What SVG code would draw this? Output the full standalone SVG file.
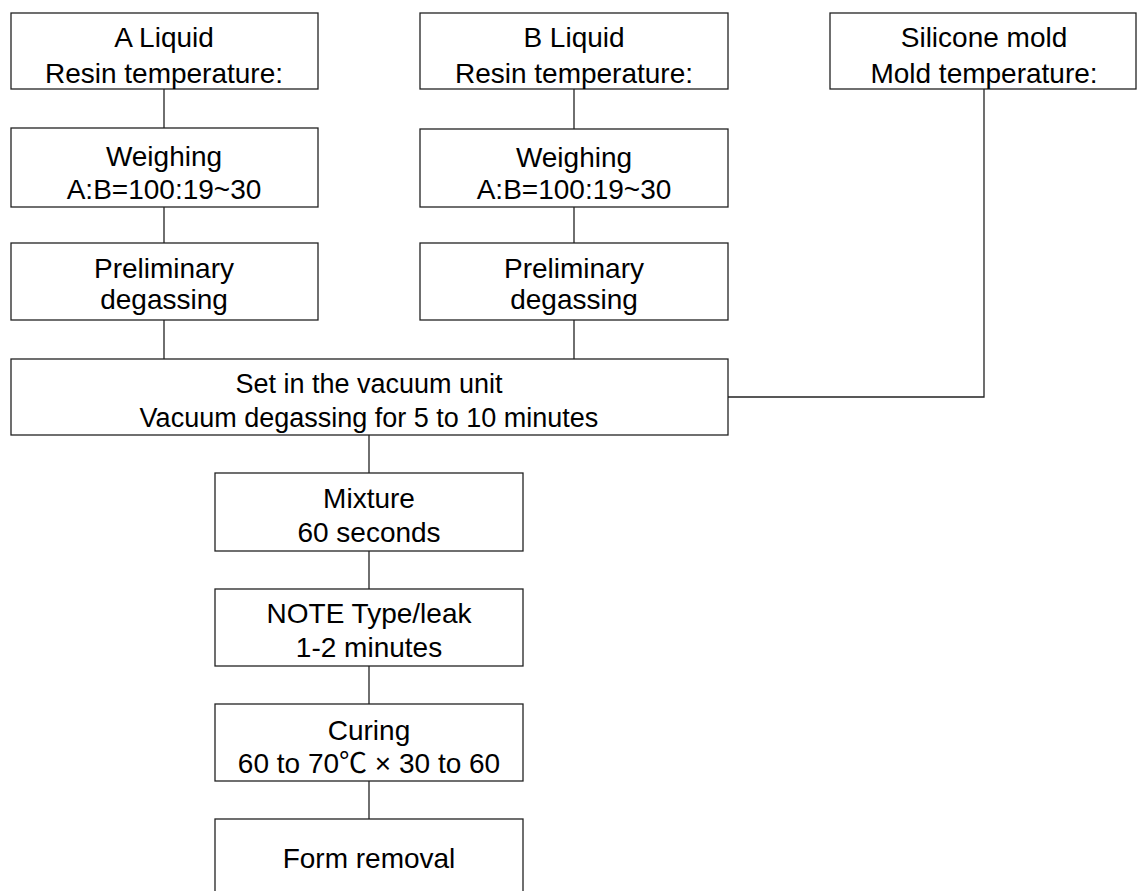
<svg xmlns="http://www.w3.org/2000/svg" width="1137" height="891" viewBox="0 0 1137 891">
<style>
.box{fill:#fff;stroke:#222;stroke-width:1.3}
.ln{fill:none;stroke:#222;stroke-width:1.3}
text{font-family:"Liberation Sans",Arial,"Noto Sans CJK SC",sans-serif;font-size:28px;fill:#000;text-anchor:middle}
.v{font-size:27px}
</style>
<rect width="1137" height="891" fill="#fff"/>
<g id="connectors">
<line class="ln" x1="164" y1="89" x2="164" y2="128"/>
<line class="ln" x1="164" y1="207" x2="164" y2="243"/>
<line class="ln" x1="164" y1="320" x2="164" y2="359"/>
<line class="ln" x1="574" y1="89" x2="574" y2="129"/>
<line class="ln" x1="574" y1="207" x2="574" y2="243"/>
<line class="ln" x1="574" y1="320" x2="574" y2="359"/>
<polyline class="ln" points="984,89 984,397 728,397"/>
<line class="ln" x1="369" y1="435" x2="369" y2="473"/>
<line class="ln" x1="369" y1="551" x2="369" y2="589"/>
<line class="ln" x1="369" y1="666" x2="369" y2="704"/>
<line class="ln" x1="369" y1="781" x2="369" y2="819"/>
</g>
<g id="a-liquid"><rect class="box" x="11" y="13" width="307" height="76"/><text x="164" y="47">A Liquid</text><text x="164" y="83">Resin temperature:</text></g>
<g id="a-weighing"><rect class="box" x="11" y="128" width="307" height="79"/><text x="164" y="166">Weighing</text><text x="164" y="199">A:B=100:19~30</text></g>
<g id="a-degas"><rect class="box" x="11" y="243" width="307" height="77"/><text x="164" y="278">Preliminary</text><text x="164" y="309">degassing</text></g>
<g id="b-liquid"><rect class="box" x="420" y="13" width="308" height="76"/><text x="574" y="47">B Liquid</text><text x="574" y="83">Resin temperature:</text></g>
<g id="b-weighing"><rect class="box" x="420" y="129" width="308" height="78"/><text x="574" y="167">Weighing</text><text x="574" y="199">A:B=100:19~30</text></g>
<g id="b-degas"><rect class="box" x="420" y="243" width="308" height="77"/><text x="574" y="278">Preliminary</text><text x="574" y="309">degassing</text></g>
<g id="silicone"><rect class="box" x="830" y="13" width="306" height="76"/><text x="984" y="47">Silicone mold</text><text x="984" y="83">Mold temperature:</text></g>
<g id="vacuum"><rect class="box" x="11" y="359" width="717" height="76"/><text class="v" x="369" y="393">Set in the vacuum unit</text><text class="v" x="369" y="427">Vacuum degassing for 5 to 10 minutes</text></g>
<g id="mixture"><rect class="box" x="215" y="473" width="308" height="78"/><text x="369" y="508">Mixture</text><text x="369" y="542">60 seconds</text></g>
<g id="note"><rect class="box" x="215" y="589" width="308" height="77"/><text x="369" y="623">NOTE Type/leak</text><text x="369" y="657">1-2 minutes</text></g>
<g id="curing"><rect class="box" x="215" y="704" width="308" height="77"/><text x="369" y="740">Curing</text><text x="369" y="773">60 to 70℃ × 30 to 60</text></g>
<g id="form"><rect class="box" x="215" y="819" width="308" height="90"/><text x="369" y="868">Form removal</text></g>
</svg>
